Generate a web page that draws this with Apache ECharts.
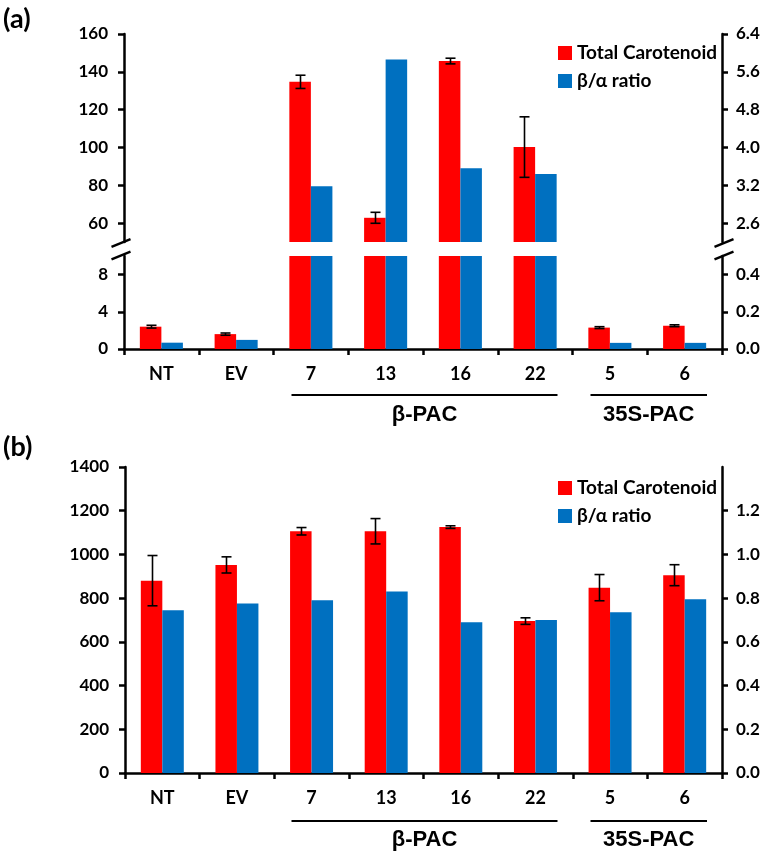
<!DOCTYPE html>
<html><head><meta charset="utf-8">
<script src="https://cdn.jsdelivr.net/npm/echarts@6.0.0/dist/echarts.min.js"></script>
<style>html,body{margin:0;padding:0;background:#fff}#c{width:764px;height:858px}</style>
</head><body><div id="c"></div>
<script>
// ---------- data ----------
const categories = ['NT', 'EV', '7', '13', '16', '22', '5', '6'];
const carotenoidA = [2.4, 1.6, 134.7, 62.8, 145.7, 100.2, 2.3, 2.5];
const carotenoidAErr = [0.15, 0.12, 3.5, 2.9, 1.5, 16, 0.1, 0.1];
const ratioA = [0.034, 0.049, 3.18, 5.86, 3.56, 3.44, 0.033, 0.033];
const carotenoidB = [880, 952, 1106, 1106, 1125, 695, 848, 905];
const carotenoidBErr = [115, 37, 17, 58, 6, 15, 60, 48];
const ratioB = [0.745, 0.775, 0.79, 0.83, 0.69, 0.70, 0.735, 0.795];
const leftTicksAUpper = [60, 80, 100, 120, 140, 160];
const leftTicksALower = [0, 4, 8];
const rightTicksAUpper = [2.4, 3.2, 4.0, 4.8, 5.6, 6.4];
const rightTickLabelsAUpper = ['2.6', '3.2', '4.0', '4.8', '5.6', '6.4'];
const rightTicksALower = [0, 0.2, 0.4];
const rightTicksB = [0, 0.2, 0.4, 0.6, 0.8, 1.0, 1.2];
const groups = [{label: 'β-PAC', from: 2, to: 5}, {label: '35S-PAC', from: 6, to: 7}];
const seriesNames = ['Total Carotenoid', 'β/α ratio'];

// ---------- layout / style ----------
const W = 764;
const AX_L = 124, AX_R = 722, AX_LB = 125;
const gA1 = {top: 34, bottom: 242};
const gA2 = {top: 256, bottom: 349};
const gB = {top: 467, bottom: 773};
const RED = '#FF0000', BLUE = '#0070C0';
const BAR_FRAC = 0.288;
const FONT = 'Lato';
const lblStyle = {color: '#000', fontFamily: FONT, fontWeight: 'bold', fontSize: 17};
const axisLine = {show: true, lineStyle: {color: '#000', width: 2.5}};
const tick = {show: true, length: 6, inside: false, lineStyle: {color: '#000', width: 2.5}};

function grid(g, left) {
  return {left: left, right: W - AX_R, top: g.top, height: g.bottom - g.top, outerBoundsMode: 'none', containLabel: false};
}
function yAx(gi, pos, min, max, ticks, fmt) {
  return {
    type: 'value', gridIndex: gi, position: pos, min: min, max: max,
    splitLine: {show: false}, axisLine: axisLine,
    axisTick: Object.assign({}, tick, {customValues: ticks}),
    axisLabel: Object.assign({}, lblStyle, {customValues: ticks, margin: pos === 'left' ? 16 : 14, formatter: fmt || (v => String(v))})
  };
}
function xAx(gi, show) {
  return {
    type: 'category', gridIndex: gi, data: categories, show: show,
    axisLine: axisLine,
    axisTick: Object.assign({}, tick, {alignWithLabel: false, interval: 0}),
    axisLabel: Object.assign({}, lblStyle, {fontSize: 18, margin: 16, interval: 0})
  };
}
function bar(name, xi, yi, data, color) {
  return {type: 'bar', name: name, xAxisIndex: xi, yAxisIndex: yi, data: data, clip: true,
    barWidth: (BAR_FRAC * 100) + '%', barGap: '0%', itemStyle: {color: color}, emphasis: {disabled: true}};
}
function errSeries(xi, yi, vals, errs, lo, hi) {
  return {
    type: 'custom', name: 'err', xAxisIndex: xi, yAxisIndex: yi, clip: true, z: 5,
    data: vals.map((v, i) => [i, v, errs[i]]),
    encode: {x: 0, y: 1},
    renderItem: function (params, api) {
      const i = api.value(0), v = api.value(1), e = api.value(2);
      if (v < lo || v > hi) return null;
      const band = api.size([1, 0])[0];
      const x = Math.round(api.coord([i, v])[0] - band * BAR_FRAC / 2) + 0.5;
      const yt = api.coord([i, v + e])[1], yb = api.coord([i, v - e])[1];
      const cap = 5;
      const st = {stroke: '#000', lineWidth: 1.6};
      return {type: 'group', children: [
        {type: 'line', shape: {x1: x, y1: yt, x2: x, y2: yb}, style: st},
        {type: 'line', shape: {x1: x - cap, y1: yt, x2: x + cap, y2: yt}, style: st},
        {type: 'line', shape: {x1: x - cap, y1: yb, x2: x + cap, y2: yb}, style: st}
      ]};
    }
  };
}
function legend(top) {
  return {
    orient: 'vertical', left: 558, top: top, padding: 0, itemGap: 8,
    icon: 'rect', itemWidth: 14, itemHeight: 14, selectedMode: false, itemStyle: {borderWidth: 0},
    data: seriesNames,
    textStyle: {color: '#000', fontFamily: FONT, fontWeight: 'bold', fontSize: 19, lineHeight: 20}
  };
}

// ---------- decorations (group lines, panel letters, axis breaks) ----------
const graphics = [];
function addGroups(lineY, textY) {
  const band = (AX_R - AX_L) / categories.length;
  groups.forEach(g => {
    const x1 = AX_L + g.from * band + 18, x2 = AX_L + (g.to + 1) * band - 15;
    graphics.push({type: 'line', shape: {x1: x1, y1: lineY, x2: x2, y2: lineY}, style: {stroke: '#000', lineWidth: 2}});
    graphics.push({type: 'text', x: (x1 + x2) / 2, y: textY, style: {text: g.label, fill: '#000',
      font: 'bold 22px "Liberation Sans", Arial, sans-serif', textAlign: 'center', textVerticalAlign: 'middle'}});
  });
}
addGroups(395, 415);
addGroups(821, 840);
graphics.push({type: 'text', x: 3, y: 19, style: {text: '(a)', fill: '#000', font: 'bold 27px Lato', textVerticalAlign: 'middle'}});
graphics.push({type: 'text', x: 3, y: 447, style: {text: '(b)', fill: '#000', font: 'bold 27px Lato', textVerticalAlign: 'middle'}});
function addBreak(ax, dx) {
  [gA1.bottom + 1, gA2.top - 0.5].forEach(y => {
    graphics.push({type: 'line', shape: {x1: ax + dx - 9.5, y1: y + 3.8, x2: ax + dx + 9.5, y2: y - 3.8},
      style: {stroke: '#000', lineWidth: 2.5}});
  });
}
addBreak(AX_L, -3);
addBreak(AX_R, 2);

const option = {
  animation: false,
  backgroundColor: '#fff',
  textStyle: {fontFamily: FONT},
  grid: [grid(gA1, AX_L), grid(gA2, AX_L), grid(gB, AX_LB)],
  xAxis: [xAx(0, false), xAx(1, true), xAx(2, true)],
  yAxis: [
    yAx(0, 'left', 50, 160, leftTicksAUpper),
    yAx(0, 'right', 2.0, 6.4, rightTicksAUpper, v => rightTickLabelsAUpper[rightTicksAUpper.findIndex(t => Math.abs(t - v) < 1e-6)] || ''),
    yAx(1, 'left', 0, 10, leftTicksALower),
    yAx(1, 'right', 0, 0.5, rightTicksALower, v => v.toFixed(1)),
    Object.assign(yAx(2, 'left', 0, 1400, null), {interval: 200,
      axisTick: Object.assign({}, tick), axisLabel: Object.assign({}, lblStyle, {margin: 16, formatter: v => String(v)})}),
    yAx(2, 'right', 0, 1.4, rightTicksB, v => v.toFixed(1))
  ],
  legend: [legend(43), legend(478)],
  series: [
    bar(seriesNames[0], 0, 0, carotenoidA, RED),
    bar(seriesNames[1], 0, 1, ratioA, BLUE),
    errSeries(0, 0, carotenoidA, carotenoidAErr, 50, 160),
    bar(seriesNames[0], 1, 2, carotenoidA, RED),
    bar(seriesNames[1], 1, 3, ratioA, BLUE),
    errSeries(1, 2, carotenoidA, carotenoidAErr, 0, 10),
    bar(seriesNames[0], 2, 4, carotenoidB, RED),
    bar(seriesNames[1], 2, 5, ratioB, BLUE),
    errSeries(2, 4, carotenoidB, carotenoidBErr, 0, 1400)
  ],
  graphic: graphics
};
const chart = echarts.init(document.getElementById('c'), null, {renderer: 'canvas'});
chart.setOption(option);
</script>
</body></html>
